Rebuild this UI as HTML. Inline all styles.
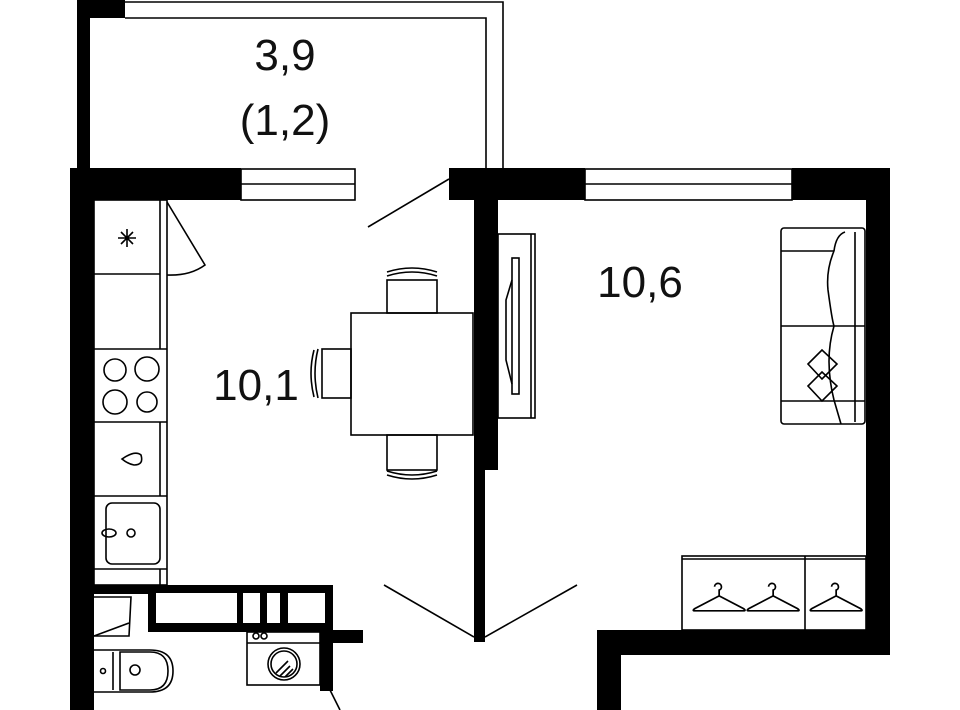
<!DOCTYPE html><html><head><style>body{margin:0;background:#fff}svg{display:block}</style></head><body>
<svg width="960" height="710" viewBox="0 0 960 710" xmlns="http://www.w3.org/2000/svg" font-family="Liberation Sans, sans-serif">
<g fill="#000">
<rect x="77" y="0" width="13" height="170"/>
<rect x="77" y="0" width="48" height="18"/>
<rect x="70" y="168" width="24" height="542"/>
<rect x="70" y="168" width="171" height="32"/>
<rect x="449" y="168" width="136" height="32"/>
<rect x="792" y="168" width="98" height="32"/>
<rect x="866" y="168" width="24" height="487"/>
<rect x="597" y="630" width="293" height="25"/>
<rect x="597" y="630" width="24" height="80"/>
<rect x="474" y="200" width="24" height="270"/>
<rect x="474" y="470" width="11" height="172"/>
<rect x="94" y="585" width="239" height="9"/>
<rect x="148" y="585" width="185" height="47"/>
<rect x="320" y="630" width="43" height="13"/>
<rect x="320" y="630" width="13" height="61"/>
</g>
<rect x="156" y="593" width="169" height="30" fill="#fff"/>
<g fill="#000"><rect x="237" y="593" width="6" height="30"/><rect x="260" y="593" width="7" height="30"/><rect x="280" y="593" width="8" height="30"/></g>
<g fill="none" stroke="#000" stroke-width="1.6">
<path d="M125 2H503V170M125 18H486V170"/>
<rect x="241" y="169" width="114" height="31"/><line x1="241" y1="184" x2="355" y2="184"/>
<rect x="585" y="169" width="207" height="31"/><line x1="585" y1="184" x2="792" y2="184"/>
<line x1="449" y1="179" x2="368" y2="227"/>
<line x1="384" y1="585" x2="474" y2="637"/><line x1="485" y1="637" x2="577" y2="585"/>
<line x1="330" y1="690" x2="340" y2="710"/>
<rect x="94" y="200" width="73" height="385"/>
<line x1="160" y1="200" x2="160" y2="349"/><line x1="160" y1="422" x2="160" y2="496"/><line x1="160" y1="569" x2="160" y2="585"/>
<line x1="94" y1="274" x2="160" y2="274"/><line x1="94" y1="349" x2="167" y2="349"/><line x1="94" y1="422" x2="167" y2="422"/><line x1="94" y1="496" x2="167" y2="496"/><line x1="94" y1="569" x2="167" y2="569"/>
<path d="M167 202L205 265Q190 276 167 275"/>
<path d="M118 238h18M127 229v18M121 232l12 12M133 232l-12 12"/>
<circle cx="115" cy="370" r="11"/><circle cx="147" cy="369" r="12"/><circle cx="115" cy="402" r="12"/><circle cx="147" cy="402" r="10"/>
<path d="M122 459Q135 450 141 455Q144 465 134 465Q128 464 122 459Z"/>
<rect x="106" y="503" width="54" height="61" rx="6"/><circle cx="131" cy="533" r="4"/><ellipse cx="109" cy="533" rx="7" ry="4"/>
<path d="M94 597H131L129 636L94 636"/><path d="M94 636L129 623"/>
<path d="M94 650H150Q173 650 173 671Q173 692 150 692H94"/><path d="M120 652H150Q168 652 168 671Q168 690 150 690H120Z"/><line x1="113" y1="652" x2="113" y2="690"/><circle cx="135" cy="670" r="5"/><circle cx="103" cy="671" r="2.5"/>
<rect x="247" y="632" width="73" height="53"/><line x1="247" y1="643" x2="320" y2="643"/><circle cx="256" cy="636" r="3"/><circle cx="264" cy="636" r="3"/>
<circle cx="284" cy="664" r="16"/><circle cx="284" cy="664" r="13"/>
<path d="M276 673l12-12M280 676l10-10M285 677l8-8"/>
<rect x="351" y="313" width="122" height="122"/>
<rect x="387" y="280" width="50" height="33"/><path d="M387 276Q412 268 437 276M387 272Q412 264 437 272"/>
<rect x="387" y="435" width="50" height="35"/><path d="M387 471Q412 479 437 471M387 475Q412 483 437 475"/>
<rect x="322" y="349" width="29" height="49"/><path d="M318 349Q312 373 318 398M314 350Q308 373 314 397"/>
<rect x="498" y="234" width="37" height="184"/><line x1="531" y1="234" x2="531" y2="418"/>
<rect x="512" y="258" width="7" height="136"/><path d="M512 280L506 300V360L512 384"/>
<rect x="781" y="228" width="84" height="196" rx="3"/>
<path d="M781 251H834M781 326H865M781 401H865M855 232V422"/>
<path d="M834 251Q826 270 828 290Q832 320 834 326Q824 360 834 400L841 424M834 251Q836 235 845 232"/>
<path d="M808 364l14-14 15 14-15 15z"/><path d="M808 386l14-14 15 14-15 15z"/>
<rect x="682" y="556" width="184" height="74"/><line x1="682" y1="559" x2="866" y2="559"/><line x1="805" y1="556" x2="805" y2="630"/>
</g>
<g fill="none" stroke="#000" stroke-width="1.5">
<g transform="translate(718 597) scale(1.15) translate(-718 -597)"><path d="M715 588a3 3 0 1 1 4 3v5l-21 11q-3 2 0 2h42q3 0 0-2l-21-11"/></g>
<g transform="translate(772 597) scale(1.15) translate(-718 -597)"><path d="M715 588a3 3 0 1 1 4 3v5l-21 11q-3 2 0 2h42q3 0 0-2l-21-11"/></g>
<g transform="translate(835 597) scale(1.15) translate(-718 -597)"><path d="M715 588a3 3 0 1 1 4 3v5l-21 11q-3 2 0 2h42q3 0 0-2l-21-11"/></g>
</g>
<g font-size="44" fill="#111" text-anchor="middle">
<text x="285" y="70">3,9</text>
<text x="285" y="135">(1,2)</text>
<text x="256" y="400">10,1</text>
<text x="640" y="297">10,6</text>
</g>
</svg>
</body></html>
